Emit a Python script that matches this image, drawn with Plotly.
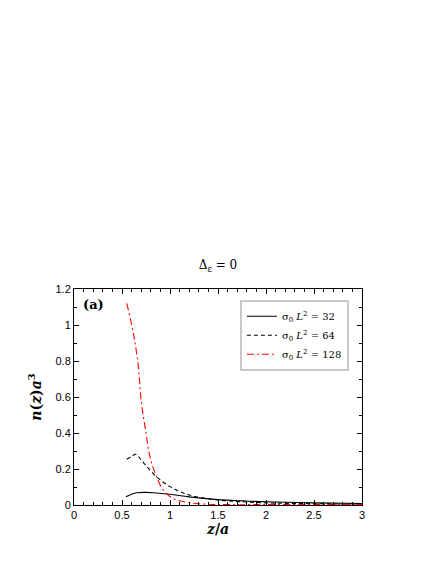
import plotly.graph_objects as go

# sigma0 L^2 = 32
z_32 = [0.54, 0.6, 0.65, 0.75, 0.85, 1.0, 1.2, 1.5, 1.75, 2.0, 2.5, 3.0]
n_32 = [0.046, 0.06, 0.068, 0.07, 0.067, 0.06, 0.045, 0.03, 0.023, 0.018, 0.012, 0.008]

# sigma0 L^2 = 64
z_64 = [0.55, 0.6, 0.645, 0.7, 0.76, 0.86, 1.0, 1.2, 1.5, 1.75, 2.0, 2.5, 3.0]
n_64 = [0.254, 0.27, 0.282, 0.25, 0.213, 0.157, 0.102, 0.056, 0.028, 0.018, 0.012, 0.007, 0.005]

# sigma0 L^2 = 128
z_128 = [0.55, 0.62, 0.67, 0.7, 0.75, 0.79, 0.86, 0.93, 1.03, 1.2, 1.4, 1.6, 2.0, 2.5, 3.0]
n_128 = [1.12, 0.95, 0.77, 0.58, 0.4, 0.27, 0.157, 0.083, 0.037, 0.013, 0.004, 0.002, 0.002, 0.002, 0.002]

names = ["σ<sub>0</sub> <i>L</i><sup>2</sup> = 32",
         "σ<sub>0</sub> <i>L</i><sup>2</sup> = 64",
         "σ<sub>0</sub> <i>L</i><sup>2</sup> = 128"]

SERIF = "DejaVu Serif"   # only serif face that actually renders here
SANS = "Liberation Sans"

fig = go.Figure()
fig.add_trace(go.Scatter(x=z_32, y=n_32, mode="lines", name=names[0],
                         line=dict(color="black", width=1.1, dash="solid", shape="spline")))
fig.add_trace(go.Scatter(x=z_64, y=n_64, mode="lines", name=names[1],
                         line=dict(color="black", width=1.1, dash="4px,3px", shape="spline")))
fig.add_trace(go.Scatter(x=z_128, y=n_128, mode="lines", name=names[2],
                         line=dict(color="red", width=1.1, dash="7px,3px,2px,3px", shape="spline")))

axis_common = dict(showline=True, linecolor="black", linewidth=1, mirror="ticks",
                   ticks="inside", ticklen=5, tickcolor="black", showgrid=False,
                   zeroline=False, tickfont=dict(family=SANS, size=11, color="black"),
                   minor=dict(ticks="inside", ticklen=3, tickcolor="black", dtick=0.1))

fig.update_xaxes(range=[0, 3], dtick=0.5, **axis_common,
                 title=dict(text="<b><i>z</i>/<i>a</i></b>", standoff=2,
                            font=dict(family=SERIF, size=14, color="black")))
fig.update_yaxes(range=[0, 1.2], dtick=0.2, **axis_common,
                 title=dict(text="<b><i>n</i>(<i>z</i>)<i>a</i><sup>3</sup></b>", standoff=10,
                            font=dict(family=SERIF, size=14, color="black")))

fig.add_annotation(text="<b>(a)</b>", xref="paper", yref="paper", x=0.025, y=0.93,
                   xanchor="left", yanchor="middle", showarrow=False,
                   font=dict(family=SERIF, size=13, color="black"))

fig.update_layout(
    width=436, height=564,
    margin=dict(l=66, r=82, t=281, b=67),
    paper_bgcolor="white", plot_bgcolor="white",
    title=dict(text="Δ<sub>ε</sub> = 0", x=(218 - 8) / 436, xanchor="center",
               y=1 - 257 / 564, yanchor="middle",
               font=dict(family=SERIF, size=12, color="black")),
    legend=dict(x=0.576, y=0.95, xanchor="left", yanchor="top",
                bgcolor="white", bordercolor="#c8c8c8", borderwidth=2,
                font=dict(family=SERIF, size=10, color="black"),
                tracegroupgap=0, itemwidth=30),
    showlegend=True,
)

fig.write_html("out.html")
